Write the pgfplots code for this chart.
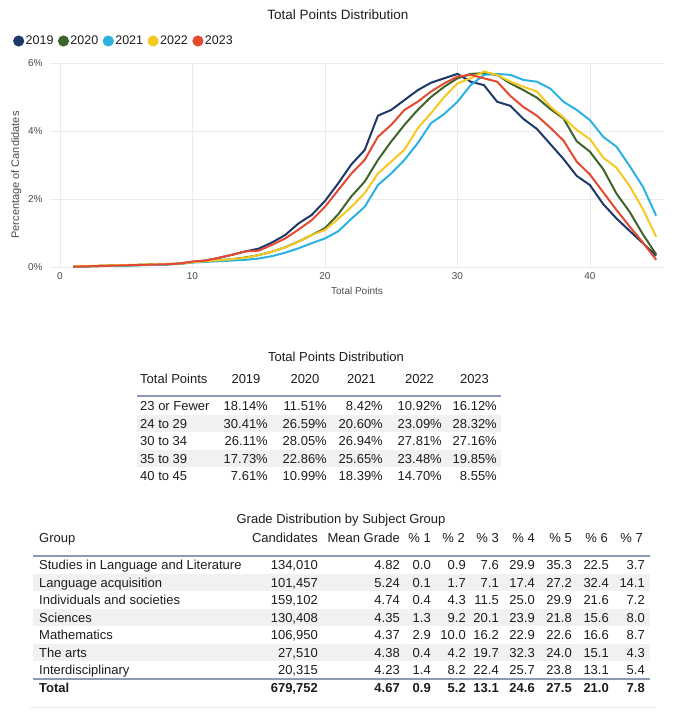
\documentclass[border=0pt]{standalone}
\usepackage{fontspec}
\setmainfont{Liberation Sans}
\usepackage{pgfplots}
\usepackage{pgfplotstable}
\pgfplotsset{compat=1.18}

\definecolor{c19}{RGB}{31,56,106}
\definecolor{c20}{RGB}{62,100,44}
\definecolor{c21}{RGB}{44,178,224}
\definecolor{c22}{RGB}{246,200,34}
\definecolor{c23}{RGB}{228,74,50}
\definecolor{gridgray}{RGB}{234,234,234}
\definecolor{tickgray}{RGB}{75,75,75}
\definecolor{rulecol}{RGB}{140,154,180}
\definecolor{rowshade}{RGB}{240,241,243}
\definecolor{txt}{RGB}{28,28,28}

\newcommand\fs[1]{\fontsize{#1bp}{#1bp}\selectfont}

% percentage of candidates per total points
\pgfplotstableread{
p  y19  y20  y21  y22  y23
1  0.01 0.01 0.01 0.02 0.01
2  0.02 0.02 0.02 0.03 0.02
3  0.03 0.03 0.03 0.04 0.03
4  0.04 0.04 0.03 0.05 0.04
5  0.05 0.05 0.04 0.06 0.05
6  0.06 0.06 0.05 0.07 0.06
7  0.07 0.07 0.06 0.08 0.07
8  0.08 0.08 0.07 0.09 0.08
9  0.10 0.10 0.09 0.10 0.10
10 0.15 0.14 0.13 0.14 0.16
11 0.19 0.17 0.15 0.17 0.19
12 0.27 0.20 0.17 0.20 0.27
13 0.36 0.23 0.19 0.23 0.36
14 0.46 0.28 0.21 0.27 0.46
15 0.54 0.35 0.25 0.35 0.48
16 0.72 0.45 0.32 0.45 0.65
17 0.94 0.58 0.42 0.58 0.84
18 1.28 0.75 0.55 0.75 1.10
19 1.53 0.94 0.70 0.94 1.38
20 1.94 1.14 0.84 1.09 1.77
21 2.46 1.55 1.05 1.42 2.26
22 3.02 2.08 1.42 1.77 2.75
23 3.44 2.51 1.77 2.17 3.15
24 4.45 3.15 2.41 2.75 3.83
25 4.62 3.69 2.75 3.10 4.18
26 4.91 4.18 3.15 3.45 4.62
27 5.20 4.62 3.64 4.08 4.86
28 5.42 5.00 4.23 4.52 5.16
29 5.55 5.30 4.50 5.00 5.40
30 5.68 5.55 4.86 5.40 5.60
31 5.45 5.68 5.35 5.55 5.65
32 5.35 5.70 5.65 5.75 5.55
33 4.86 5.65 5.68 5.65 5.45
34 4.74 5.40 5.65 5.45 5.03
35 4.35 5.20 5.50 5.30 4.70
36 4.06 4.98 5.45 5.16 4.45
37 3.62 4.65 5.25 4.72 4.10
38 3.18 4.37 4.86 4.40 3.72
39 2.68 3.70 4.62 4.03 3.10
40 2.41 3.39 4.32 3.76 2.72
41 1.85 2.88 3.83 3.22 2.20
42 1.43 2.16 3.54 2.92 1.68
43 1.06 1.62 2.97 2.38 1.19
44 0.70 0.96 2.36 1.70 0.72
45 0.33 0.37 1.51 0.89 0.21
}\pts

\begin{document}
\begin{tikzpicture}
\path[use as bounding box] (0,0) rectangle (685bp,-717bp);

\begin{axis}[
  at={(50bp,-267bp)}, anchor=south west,
  scale only axis, width=612.8bp, height=204bp,
  xmin=-0.75, xmax=45.5, ymin=0, ymax=6,
  axis line style={draw=none},
  major tick length=0pt,
  grid=major,
  major grid style={color=gridgray, line width=0.8bp},
  xtick={0,10,20,30,40}, xticklabels={0,10,20,30,40},
  ytick={0,2,4,6}, yticklabels={0\%,2\%,4\%,6\%},
  tick label style={font=\fs{10}, text=tickgray},
  xticklabel style={yshift=-2bp},
  yticklabel style={xshift=-4bp},
  legend columns=-1,
  legend image code/.code={\fill[#1] (4.5bp,0bp) circle (4.5bp);},
  legend style={at={(-0.0604,1.1078)}, anchor=west, draw=none, fill=none,
    inner sep=0pt, font=\fs{12.5}, text=txt,
    nodes={inner xsep=1.5bp},
    /tikz/every even column/.append style={column sep=3bp}},
]
\addplot[c19, line width=2bp] table[x=p, y=y19]{\pts};
\addlegendentry{2019}
\addplot[c20, line width=2bp] table[x=p, y=y20]{\pts};
\addlegendentry{2020}
\addplot[c21, line width=2bp] table[x=p, y=y21]{\pts};
\addlegendentry{2021}
\addplot[c22, line width=2bp] table[x=p, y=y22]{\pts};
\addlegendentry{2022}
\addplot[c23, line width=2bp] table[x=p, y=y23]{\pts};
\addlegendentry{2023}
\end{axis}

\begin{scope}[x=1bp, y=1bp,
  every node/.style={inner sep=0pt, text height=9.3bp, text depth=0pt, font=\fs{13}, text=txt}]
% chart titles and axis labels
\node[font=\fs{13.5}] at (338,-15) {Total Points Distribution};
\node[font=\fs{10}, text=tickgray] at (357,-290) {Total Points};
\node[font=\fs{11}, text=tickgray, rotate=90, text height=8bp] at (15,-175) {Percentage of Candidates};

% ---- table 1
\node at (336,-357) {Total Points Distribution};
\fill[rowshade] (137,-414.5) rectangle (501,-432);
\fill[rowshade] (137,-449.5) rectangle (501,-467);
\draw[rulecol, line width=1.4bp] (137,-396) -- (501,-396);
\node[anchor=west] at (140,-379) {Total Points};
\foreach \h/\xc in {2019/246, 2020/305, 2021/361.5, 2022/419.5, 2023/474.5}
  \node at (\xc,-379) {\h};
\foreach \lab/\a/\b/\c/\d/\e [count=\i] in {
  23 or Fewer/18.14/11.51/8.42/10.92/16.12,
  24 to 29/30.41/26.59/20.60/23.09/28.32,
  30 to 34/26.11/28.05/26.94/27.81/27.16,
  35 to 39/17.73/22.86/25.65/23.48/19.85,
  40 to 45/7.61/10.99/18.39/14.70/8.55} {
  \pgfmathsetmacro\yy{-406-17.5*(\i-1)}
  \node[anchor=west] at (140,\yy) {\lab};
  \node[anchor=east] at (268,\yy) {\a\%};
  \node[anchor=east] at (327,\yy) {\b\%};
  \node[anchor=east] at (383,\yy) {\c\%};
  \node[anchor=east] at (442,\yy) {\d\%};
  \node[anchor=east] at (497,\yy) {\e\%};
}

% ---- table 2
\node at (341,-519) {Grade Distribution by Subject Group};
\foreach \k in {1,3,5}
  \fill[rowshade] (33,{-556-17.5*\k}) rectangle (650,{-556-17.5*(\k+1)});
\draw[rulecol, line width=1.4bp] (33,-556) -- (650,-556);
\draw[rulecol, line width=1.4bp] (33,-679) -- (650,-679);
\draw[gridgray, line width=0.8bp] (30,-707) -- (655,-707);
\node[anchor=west] at (39,-538) {Group};
\node[anchor=east] at (318,-538) {Candidates};
\node[anchor=east] at (400,-538) {Mean Grade};
\foreach \h/\xr in {1/431, 2/465, 3/499, 4/535, 5/572, 6/608, 7/643}
  \node[anchor=east] at (\xr,-538) {\% \h};
\foreach \lab/\n/\m/\a/\b/\c/\d/\e/\f/\g [count=\i] in {
  Studies in Language and Literature/134{,}010/4.82/0.0/0.9/7.6/29.9/35.3/22.5/3.7,
  Language acquisition/101{,}457/5.24/0.1/1.7/7.1/17.4/27.2/32.4/14.1,
  Individuals and societies/159{,}102/4.74/0.4/4.3/11.5/25.0/29.9/21.6/7.2,
  Sciences/130{,}408/4.35/1.3/9.2/20.1/23.9/21.8/15.6/8.0,
  Mathematics/106{,}950/4.37/2.9/10.0/16.2/22.9/22.6/16.6/8.7,
  The arts/27{,}510/4.38/0.4/4.2/19.7/32.3/24.0/15.1/4.3,
  Interdisciplinary/20{,}315/4.23/1.4/8.2/22.4/25.7/23.8/13.1/5.4,
  \textbf{Total}/\textbf{679{,}752}/\textbf{4.67}/\textbf{0.9}/\textbf{5.2}/\textbf{13.1}/\textbf{24.6}/\textbf{27.5}/\textbf{21.0}/\textbf{7.8}} {
  \pgfmathsetmacro\yy{ifthenelse(\i==8,-688,-565-17.5*(\i-1))}
  \node[anchor=west] at (39,\yy) {\lab};
  \node[anchor=east] at (318,\yy) {\n};
  \node[anchor=east] at (400,\yy) {\m};
  \node[anchor=east] at (431,\yy) {\a};
  \node[anchor=east] at (466,\yy) {\b};
  \node[anchor=east] at (499,\yy) {\c};
  \node[anchor=east] at (535,\yy) {\d};
  \node[anchor=east] at (572,\yy) {\e};
  \node[anchor=east] at (609,\yy) {\f};
  \node[anchor=east] at (645,\yy) {\g};
}
\end{scope}
\end{tikzpicture}
\end{document}
